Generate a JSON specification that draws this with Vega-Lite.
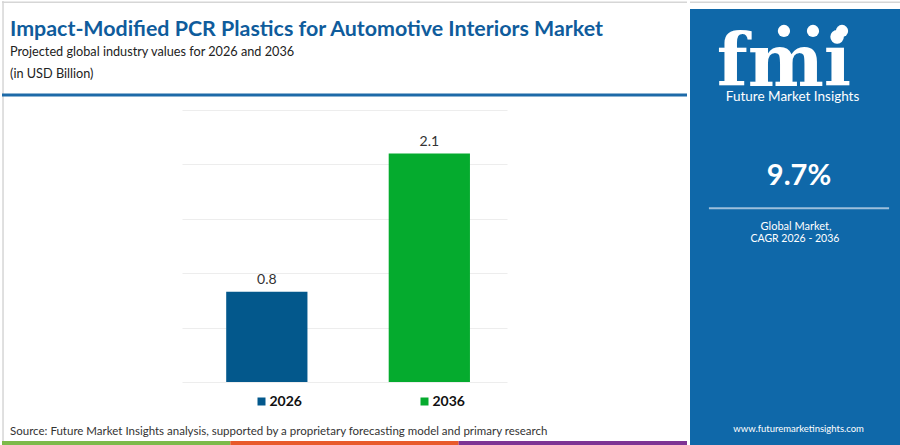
{
  "$schema": "https://vega.github.io/schema/vega-lite/v6.json",
  "background": "white",
  "padding": 0,
  "config": {"view": {"stroke": null}, "font": "Lato"},
  "spacing": 0,
  "hconcat": [
    {
      "spacing": 0,
      "bounds": "flush",
      "center": true,
      "resolve": {"scale": {"color": "independent"}, "legend": {"color": "independent"}},
      "vconcat": [
        {
          "width": 685,
          "height": 109,
          "layer": [
            {
              "data": {"values": [{}]},
              "mark": {"type": "rule", "color": "#d6d6d6", "strokeWidth": 1.5},
              "encoding": {
                "x": {"datum": 0, "type": "quantitative", "scale": {"domain": [0, 1]}, "axis": null},
                "x2": {"datum": 1},
                "y": {"datum": 0.011, "type": "quantitative", "scale": {"domain": [0, 1], "reverse": true}, "axis": null}
              }
            },
            {
              "data": {"values": [{}]},
              "mark": {"type": "rule", "color": "#d6d6d6", "strokeWidth": 1.5},
              "encoding": {
                "x": {"datum": 0.0015, "type": "quantitative", "scale": {"domain": [0, 1]}, "axis": null},
                "y": {"datum": 0, "type": "quantitative", "scale": {"domain": [0, 1], "reverse": true}, "axis": null},
                "y2": {"datum": 4.04}
              }
            },
            {
              "data": {"values": [{"label": "Impact-Modified PCR Plastics for Automotive Interiors Market"}]},
              "mark": {"type": "text", "align": "left", "baseline": "alphabetic", "font": "Lato", "fontWeight": "bold", "fontSize": 21.4, "color": "#0f5c9c"},
              "encoding": {
                "x": {"datum": 0.0117, "type": "quantitative", "scale": {"domain": [0, 1]}, "axis": null},
                "y": {"datum": 0.321, "type": "quantitative", "scale": {"domain": [0, 1], "reverse": true}, "axis": null},
                "text": {"field": "label"}
              }
            },
            {
              "data": {"values": [{"label": "Projected global industry values for 2026 and 2036"}]},
              "mark": {"type": "text", "align": "left", "baseline": "alphabetic", "font": "Lato", "fontSize": 12.7, "color": "#222222"},
              "encoding": {
                "x": {"datum": 0.0117, "type": "quantitative", "scale": {"domain": [0, 1]}, "axis": null},
                "y": {"datum": 0.505, "type": "quantitative", "scale": {"domain": [0, 1], "reverse": true}, "axis": null},
                "text": {"field": "label"}
              }
            },
            {
              "data": {"values": [{"label": "(in USD Billion)"}]},
              "mark": {"type": "text", "align": "left", "baseline": "alphabetic", "font": "Lato", "fontSize": 12.7, "color": "#222222"},
              "encoding": {
                "x": {"datum": 0.0117, "type": "quantitative", "scale": {"domain": [0, 1]}, "axis": null},
                "y": {"datum": 0.706, "type": "quantitative", "scale": {"domain": [0, 1], "reverse": true}, "axis": null},
                "text": {"field": "label"}
              }
            },
            {
              "data": {"values": [{}]},
              "mark": {"type": "rule", "color": "#1d6aa8", "strokeWidth": 3},
              "encoding": {
                "x": {"datum": 0, "type": "quantitative", "scale": {"domain": [0, 1]}, "axis": null},
                "x2": {"datum": 1},
                "y": {"datum": 0.862, "type": "quantitative", "scale": {"domain": [0, 1], "reverse": true}, "axis": null}
              }
            }
          ]
        },
        {
          "width": 325,
          "height": 272,
          "data": {"values": [{"year": "2026", "value": 0.83}, {"year": "2036", "value": 2.1}]},
          "encoding": {
            "x": {"field": "year", "type": "nominal", "scale": {"paddingInner": 0.5, "paddingOuter": 0.25, "align": 0.544}, "axis": null},
            "y": {
              "field": "value",
              "type": "quantitative",
              "scale": {"domain": [0, 2.5], "nice": false},
              "axis": {"values": [0, 0.5, 1, 1.5, 2, 2.5], "grid": true, "gridColor": "#ededed", "gridWidth": 1, "labels": false, "ticks": false, "domain": false, "title": null}
            }
          },
          "layer": [
            {
              "mark": {"type": "bar"},
              "encoding": {
                "color": {
                  "field": "year",
                  "type": "nominal",
                  "scale": {"range": ["#03588c", "#05ab2e"]},
                  "legend": {
                    "orient": "none",
                    "legendX": 72.5,
                    "legendY": 284.5,
                    "direction": "horizontal",
                    "title": null,
                    "symbolType": "square",
                    "symbolSize": 64,
                    "symbolStrokeWidth": 0,
                    "symbolOpacity": 1,
                    "labelFont": "Lato",
                    "labelFontWeight": "bold",
                    "labelFontSize": 14,
                    "labelColor": "#111111",
                    "columnPadding": 115,
                    "labelOffset": 1,
                    "padding": 0
                  }
                }
              }
            },
            {
              "mark": {"type": "text", "baseline": "alphabetic", "dy": -8, "fontSize": 14, "color": "#333333", "font": "Lato"},
              "encoding": {"text": {"field": "value", "type": "quantitative", "format": ".1f"}}
            }
          ]
        },
        {
          "width": 685,
          "height": 64,
          "resolve": {"scale": {"x": "independent"}},
          "layer": [
            {
              "data": {"values": [{"label": "Source: Future Market Insights analysis, supported by a proprietary forecasting model and primary research"}]},
              "mark": {"type": "text", "align": "left", "baseline": "alphabetic", "font": "Lato", "fontSize": 11.5, "color": "#333333"},
              "encoding": {
                "x": {"datum": 0.0117, "type": "quantitative", "scale": {"domain": [0, 1]}, "axis": null},
                "y": {"datum": 0.83, "type": "quantitative", "scale": {"domain": [0, 1], "reverse": true}, "axis": null},
                "text": {"field": "label"}
              }
            },
            {
              "data": {"values": [{"seg": "a"}, {"seg": "b"}, {"seg": "c"}]},
              "mark": {"type": "rect"},
              "encoding": {
                "x": {"field": "seg", "type": "nominal", "scale": {"paddingInner": 0, "paddingOuter": 0}, "axis": null},
                "y": {"datum": 0.922, "type": "quantitative", "scale": {"domain": [0, 1], "reverse": true}, "axis": null},
                "y2": {"datum": 0.995},
                "color": {"field": "seg", "type": "nominal", "scale": {"range": ["#7dba4a", "#e8592b", "#7e3394"]}, "legend": null}
              }
            }
          ]
        }
      ]
    },
    {
      "width": 215,
      "height": 445,
      "layer": [
        {
          "data": {"values": [{}]},
          "mark": {"type": "rect", "color": "#0f68a9"},
          "encoding": {
            "x": {"datum": 0, "type": "quantitative", "scale": {"domain": [0, 1]}, "axis": null},
            "x2": {"datum": 0.99},
            "y": {"datum": 0.018, "type": "quantitative", "scale": {"domain": [0, 1], "reverse": true}, "axis": null},
            "y2": {"datum": 0.998}
          }
        },
        {
          "data": {"values": [{}]},
          "mark": {"type": "rule", "color": "#d6d6d6", "strokeWidth": 1.5},
          "encoding": {
            "x": {"datum": 0, "type": "quantitative", "scale": {"domain": [0, 1]}, "axis": null},
            "x2": {"datum": 1},
            "y": {"datum": 0.0027, "type": "quantitative", "scale": {"domain": [0, 1], "reverse": true}, "axis": null}
          }
        },
        {
          "data": {"values": [{"label": "fmi"}]},
          "mark": {"type": "text", "align": "center", "baseline": "alphabetic", "font": "DejaVu Serif", "fontWeight": "bold", "fontSize": 72, "color": "white"},
          "encoding": {
            "x": {"datum": 0.437, "type": "quantitative", "scale": {"domain": [0, 1]}, "axis": null},
            "y": {"datum": 0.19, "type": "quantitative", "scale": {"domain": [0, 1], "reverse": true}, "axis": null},
            "text": {"field": "label"}
          }
        },
        {
          "data": {"values": [{}]},
          "mark": {"type": "point", "shape": "circle", "filled": true, "size": 150, "color": "white", "opacity": 1},
          "encoding": {
            "x": {"datum": 0.437, "type": "quantitative", "scale": {"domain": [0, 1]}, "axis": null},
            "y": {"datum": 0.0674, "type": "quantitative", "scale": {"domain": [0, 1], "reverse": true}, "axis": null}
          }
        },
        {
          "data": {"values": [{}]},
          "mark": {"type": "point", "shape": "circle", "filled": true, "size": 150, "color": "white", "opacity": 1},
          "encoding": {
            "x": {"datum": 0.572, "type": "quantitative", "scale": {"domain": [0, 1]}, "axis": null},
            "y": {"datum": 0.0674, "type": "quantitative", "scale": {"domain": [0, 1], "reverse": true}, "axis": null}
          }
        },
        {
          "data": {"values": [{}]},
          "mark": {"type": "point", "shape": "circle", "filled": true, "size": 150, "color": "white", "opacity": 1},
          "encoding": {
            "x": {"datum": 0.707, "type": "quantitative", "scale": {"domain": [0, 1]}, "axis": null},
            "y": {"datum": 0.0674, "type": "quantitative", "scale": {"domain": [0, 1], "reverse": true}, "axis": null}
          }
        },
        {
          "data": {"values": [{"label": "Future Market Insights"}]},
          "mark": {"type": "text", "align": "center", "baseline": "alphabetic", "font": "Lato", "fontSize": 13.5, "color": "white"},
          "encoding": {
            "x": {"datum": 0.477, "type": "quantitative", "scale": {"domain": [0, 1]}, "axis": null},
            "y": {"datum": 0.2245, "type": "quantitative", "scale": {"domain": [0, 1], "reverse": true}, "axis": null},
            "text": {"field": "label"}
          }
        },
        {
          "data": {"values": [{"label": "9.7%"}]},
          "mark": {"type": "text", "align": "center", "baseline": "middle", "font": "Lato", "fontWeight": "bold", "fontSize": 29, "color": "white"},
          "encoding": {
            "x": {"datum": 0.507, "type": "quantitative", "scale": {"domain": [0, 1]}, "axis": null},
            "y": {"datum": 0.393, "type": "quantitative", "scale": {"domain": [0, 1], "reverse": true}, "axis": null},
            "text": {"field": "label"}
          }
        },
        {
          "data": {"values": [{}]},
          "mark": {"type": "rule", "color": "#9dbfdc", "strokeWidth": 2},
          "encoding": {
            "x": {"datum": 0.088, "type": "quantitative", "scale": {"domain": [0, 1]}, "axis": null},
            "x2": {"datum": 0.926},
            "y": {"datum": 0.466, "type": "quantitative", "scale": {"domain": [0, 1], "reverse": true}, "axis": null}
          }
        },
        {
          "data": {"values": [{"label": "Global Market,"}]},
          "mark": {"type": "text", "align": "center", "baseline": "middle", "font": "Lato", "fontSize": 11, "color": "white"},
          "encoding": {
            "x": {"datum": 0.493, "type": "quantitative", "scale": {"domain": [0, 1]}, "axis": null},
            "y": {"datum": 0.507, "type": "quantitative", "scale": {"domain": [0, 1], "reverse": true}, "axis": null},
            "text": {"field": "label"}
          }
        },
        {
          "data": {"values": [{"label": "CAGR 2026 - 2036"}]},
          "mark": {"type": "text", "align": "center", "baseline": "middle", "font": "Lato", "fontSize": 10.5, "color": "white"},
          "encoding": {
            "x": {"datum": 0.488, "type": "quantitative", "scale": {"domain": [0, 1]}, "axis": null},
            "y": {"datum": 0.5355, "type": "quantitative", "scale": {"domain": [0, 1], "reverse": true}, "axis": null},
            "text": {"field": "label"}
          }
        },
        {
          "data": {"values": [{"label": "www.futuremarketinsights.com"}]},
          "mark": {"type": "text", "align": "center", "baseline": "middle", "font": "Lato", "fontSize": 9.5, "color": "white"},
          "encoding": {
            "x": {"datum": 0.505, "type": "quantitative", "scale": {"domain": [0, 1]}, "axis": null},
            "y": {"datum": 0.962, "type": "quantitative", "scale": {"domain": [0, 1], "reverse": true}, "axis": null},
            "text": {"field": "label"}
          }
        }
      ]
    }
  ]
}
